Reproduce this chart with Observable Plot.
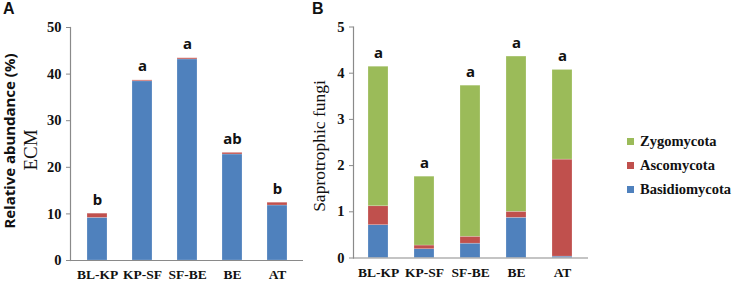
<!DOCTYPE html>
<html>
<head>
<meta charset="utf-8">
<script src="https://cdn.jsdelivr.net/npm/d3@7"></script>
<script src="https://cdn.jsdelivr.net/npm/@observablehq/plot@0.6"></script>
<style>
  html, body { margin: 0; padding: 0; background: #fff; }
  #root { position: relative; width: 737px; height: 282px; overflow: hidden; }
  .abs { position: absolute; }
  .rot { position: absolute; white-space: nowrap; transform: translate(-50%, -50%) rotate(-90deg); }
  .panel { font-family: "Liberation Sans", Arial, sans-serif; font-weight: bold; font-size: 16px; color: #111; }
  .leg { position: absolute; font-family: "Liberation Serif", "Times New Roman", serif; font-weight: bold; font-size: 14.5px; color: #111; white-space: nowrap; }
  .sw { display: inline-block; width: 7px; height: 7px; margin-right: 6px; vertical-align: 1px; }
  svg.chart text { font-family: "Liberation Serif", "Times New Roman", serif !important; font-weight: bold; }
  svg.chart g.letters text { font-family: "Noto Sans", "Liberation Sans", sans-serif !important; font-weight: bold; }
</style>
</head>
<body>
<div id="root"></div>
<script>
// ---- data ----
const sites = ["BL-KP", "KP-SF", "SF-BE", "BE", "AT"];
const groups = ["Basidiomycota", "Ascomycota", "Zygomycota"];
const groupColors = ["#4F81BD", "#C0504D", "#9BBB59"];

// Panel A: ECM relative abundance (%)
const ecmBasidio = [9.15, 38.45, 43.15, 22.75, 11.8];
const ecmAsco = [0.9, 0.2, 0.25, 0.35, 0.6];
const lettersA = ["b", "a", "a", "ab", "b"];
const ticksA = [0, 10, 20, 30, 40, 50];

// Panel B: Saprotrophic fungi
const sapBasidio = [0.71, 0.19, 0.31, 0.87, 0.03];
const sapAsco = [0.41, 0.08, 0.15, 0.13, 2.1];
const sapZygo = [3.02, 1.49, 3.27, 3.36, 1.94];
const lettersB = ["a", "a", "a", "a", "a"];
const ticksB = [0, 1, 2, 3, 4, 5];

// ---- build tables ----
function rows(series) {
  const out = [];
  sites.forEach((s, i) => {
    series.forEach(([g, arr]) => out.push({site: s, group: g, value: arr[i]}));
  });
  return out;
}
const dataA = rows([["Basidiomycota", ecmBasidio], ["Ascomycota", ecmAsco]]);
const dataB = rows([["Basidiomycota", sapBasidio], ["Ascomycota", sapAsco], ["Zygomycota", sapZygo]]);
const totalsA = sites.map((s, i) => ({site: s, total: ecmBasidio[i] + ecmAsco[i], letter: lettersA[i]}));
const totalsB = sites.map((s, i) => ({site: s, total: sapBasidio[i] + sapAsco[i] + sapZygo[i], letter: lettersB[i]}));

const axisColor = "#8a8a8a";
const serif = "Liberation Serif";

function panel({data, totals, ticks, width, marginLeft, marginRight, marginTop, marginBottom, domain, pIn, pOut}) {
  return Plot.plot({
    width, height: 282,
    marginLeft, marginRight, marginTop, marginBottom,
    className: "chart",
    style: {background: "transparent", overflow: "visible", fontFamily: serif},
    x: {domain: sites, paddingInner: pIn, paddingOuter: pOut, axis: null},
    y: {domain, axis: null},
    color: {domain: groups, range: groupColors},
    marks: [
      Plot.barY(data, Plot.stackY({order: null}, {x: "site", y: "value", fill: "group", stroke: "#ffffff", strokeOpacity: 0.35, strokeWidth: 0.6})),
      Plot.frame({anchor: "left", stroke: axisColor, strokeWidth: 1.2}),
      Plot.ruleY([domain[0]], {stroke: axisColor, strokeWidth: 1.2}),
      Plot.axisY({ticks, tickSize: 4, tickPadding: 5, stroke: axisColor, tickFormat: d => d, fontSize: 14.5, fill: "#111", fontWeight: "bold", fontFamily: serif, label: null}),
      Plot.axisX({tickSize: 0, tickPadding: 9, fontSize: 13.5, fill: "#111", fontWeight: "bold", fontFamily: serif, label: null}),
      Plot.text(totals, {x: "site", y: "total", text: "letter", dy: -9, lineAnchor: "bottom", fontSize: 15, fontWeight: "bold", fontFamily: "Noto Sans", fill: "#111", className: "letters"})
    ]
  });
}

const root = document.getElementById("root");

const svgA = panel({data: dataA, totals: totalsA, ticks: ticksA, width: 305, marginLeft: 70, marginRight: 2, marginTop: 27, marginBottom: 22, domain: [0, 50], pIn: 0.56, pOut: 0.34});
svgA.classList.add("abs");
svgA.style.left = "0px"; svgA.style.top = "0px";
root.appendChild(svgA);

const svgB = panel({data: dataB, totals: totalsB, ticks: ticksB, width: 432, marginLeft: 48, marginRight: 149, marginTop: 26.5, marginBottom: 24.5, domain: [0, 5], pIn: 0.565, pOut: 0.335});
svgB.classList.add("abs");
svgB.style.left = "305px"; svgB.style.top = "0px";
root.appendChild(svgB);

// Panel letters
function addDiv(html, cls, css) {
  const d = document.createElement("div");
  d.className = cls;
  d.innerHTML = html;
  Object.assign(d.style, css);
  root.appendChild(d);
  return d;
}
addDiv("A", "abs panel", {left: "3px", top: "0px"});
addDiv("B", "abs panel", {left: "312px", top: "0px"});

// Axis titles
addDiv("Relative abundance (%)", "rot", {left: "9px", top: "141px", fontFamily: "'Noto Sans', 'Liberation Sans', sans-serif", fontWeight: "bold", fontSize: "15px", color: "#111"});
addDiv("ECM", "rot", {left: "31px", top: "150px", fontFamily: "'Liberation Serif', 'Times New Roman', serif", fontSize: "19px", color: "#111"});
addDiv("Saprotrophic fungi", "rot", {left: "319px", top: "146px", fontFamily: "'Liberation Serif', 'Times New Roman', serif", fontSize: "17.5px", color: "#111"});

// Legend (top to bottom: Zygomycota, Ascomycota, Basidiomycota)
const legendOrder = [2, 1, 0];
legendOrder.forEach((gi, k) => {
  addDiv(`<span class="sw" style="background:${groupColors[gi]}"></span>${groups[gi]}`, "leg", {left: "627px", top: (133 + k * 24) + "px"});
});
</script>
</body>
</html>
